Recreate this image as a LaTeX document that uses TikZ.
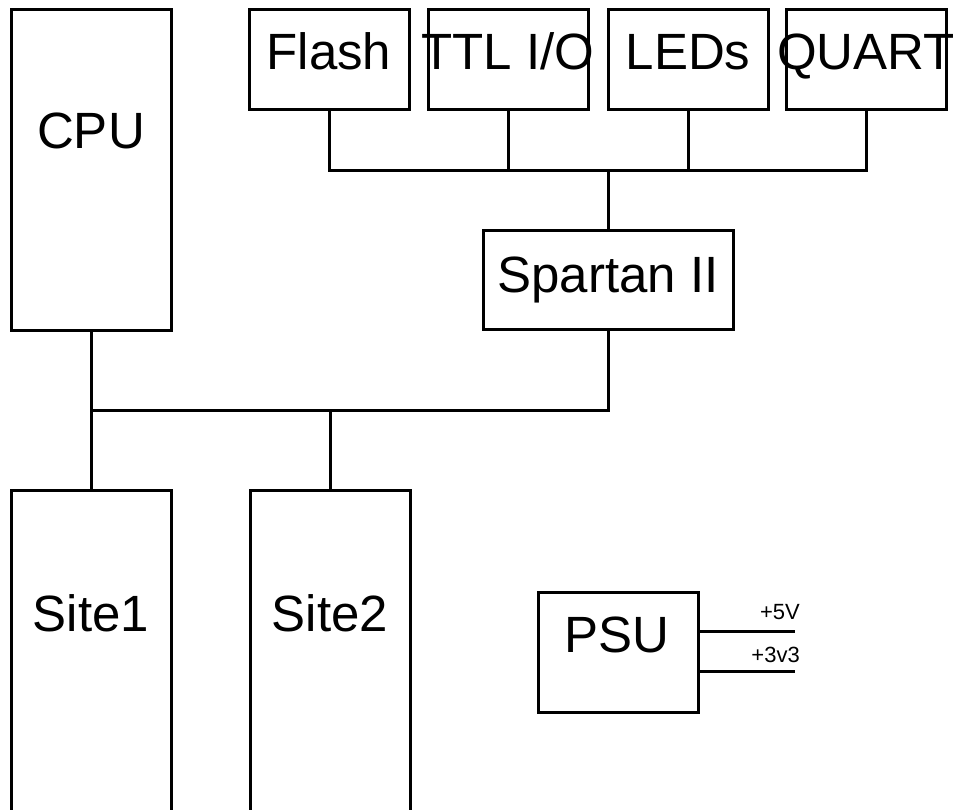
\documentclass[tikz,border=0pt]{standalone}
\usepackage{fontspec}
\setmainfont{Liberation Sans}
\begin{document}
\begin{tikzpicture}[x=1pt,y=-1pt,
  blk/.style={draw,line width=3pt,minimum width=160pt,minimum height=100pt,inner sep=0pt,outer sep=0pt,anchor=north west},
  lbl/.style={anchor=base,inner sep=0pt,font=\fontsize{51}{60}\selectfont},
  small/.style={anchor=base east,inner sep=0pt,font=\fontsize{22}{26}\selectfont},
  wire/.style={line width=3pt}]
\useasboundingbox (0,0) rectangle (958,810);
\clip (0,0) rectangle (958,810);
% boxes
\node[blk,minimum height=320pt] (cpu) at (11,10) {};
\node[blk] (flash) at (249,10) {};
\node[blk] (ttl) at (428,10) {};
\node[blk] (leds) at (608,10) {};
\node[blk] (quart) at (786,10) {};
\node[blk,minimum width=250pt,minimum height=98pt] (spartan) at (483,231) {};
\node[blk,minimum height=340pt] (site1) at (11,490) {};
\node[blk,minimum height=340pt] (site2) at (250,490) {};
\node[blk,minimum height=120pt] (psu) at (538,592) {};
% labels
\node[lbl] (cputxt) at (91,149) {CPU};
\node[lbl] (flashtxt) at (329,70) {Flash};
\node[lbl] (ttltxt) at (508,70) {TTL I/O};
\node[lbl] (ledstxt) at (688,70) {LEDs};
\node[lbl] (quarttxt) at (866,70) {QUART};
\node[lbl] (spartantxt) at (608,292) {Spartan II};
\node[lbl] (site1txt) at (91,631) {Site1};
\node[lbl] (site2txt) at (330,631) {Site2};
\node[lbl] (psutxt) at (617,652) {PSU};
% top bus
\coordinate (tbus) at (608,171);
\draw[wire] (flash.south) -- (flash.south |- tbus) -| (quart.south);
\draw[wire] (ttl.south) -- (ttl.south |- tbus);
\draw[wire] (leds.south) -- (leds.south |- tbus);
\draw[wire] (tbus) -- (spartan.north);
% bottom bus
\coordinate (bbus) at (608,410);
\draw[wire] (spartan.south) -- (spartan.south |- bbus) -| (cpu.south);
\draw[wire] (cpu.south) -- (site1.north);
\draw[wire] (site2.north) -- (site2.north |- bbus);
% PSU outputs
\coordinate (v5) at (795,631);
\coordinate (v33) at (795,671);
\draw[wire] (psu.east |- v5) -- (v5);
\draw[wire] (psu.east |- v33) -- (v33);
\node[small] (v5txt) at (800,619) {+5V};
\node[small] (v33txt) at (800,662) {+3v3};
\end{tikzpicture}
\end{document}
